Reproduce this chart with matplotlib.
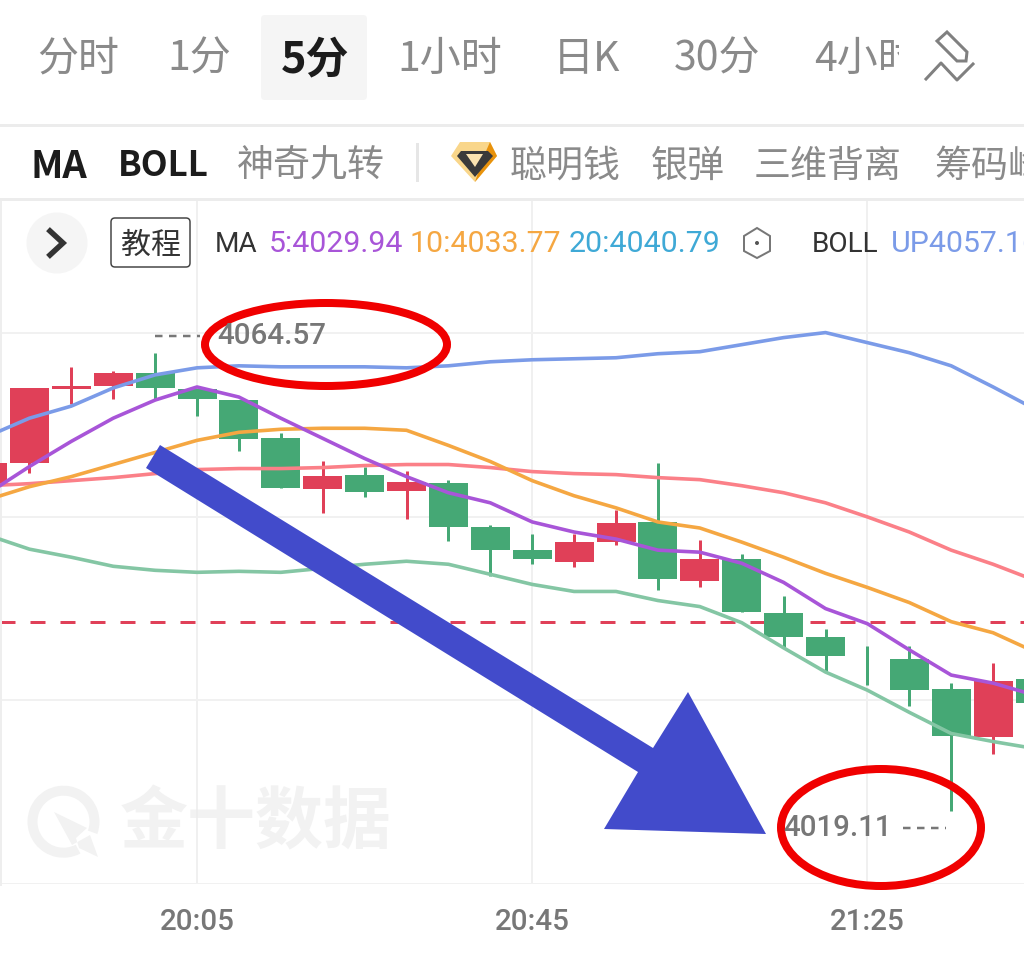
import matplotlib
matplotlib.use("Agg")
import matplotlib.pyplot as plt
from matplotlib.patches import Ellipse, Polygon, Rectangle, FancyBboxPatch, Circle, Wedge

W, H, DPI = 1024, 960, 100
PX = 72 / DPI
CJK = ['Noto Sans CJK SC', 'DejaVu Sans']
RB = 'Roboto'

# ---------- data ----------
index = list(range(-1, 25))
opens = [4051.5, 4053.7, 4061.0, 4061.3, 4062.6, 4061.0, 4059.9, 4056.1, 4051.1, 4052.5, 4050.9, 4051.7, 4047.3,
         4045.0, 4043.8, 4045.8, 4047.8, 4041.9, 4044.1, 4038.8, 4036.4, 4033.6, 4034.2, 4031.2, 4026.5, 4032.2]
highs = [4053.7, 4061.1, 4063.2, 4062.8, 4064.57, 4061.0, 4059.9, 4056.6, 4053.9, 4053.3, 4052.9, 4052.0, 4047.5,
         4046.6, 4046.6, 4049.0, 4053.7, 4046.0, 4044.6, 4040.4, 4037.2, 4035.5, 4035.5, 4031.8, 4033.8, 4032.2]
lows = [4051.5, 4052.7, 4059.5, 4060.0, 4060.0, 4058.3, 4054.8, 4051.2, 4048.7, 4050.3, 4048.1, 4045.9, 4042.4,
        4043.6, 4043.3, 4045.5, 4041.0, 4041.3, 4038.9, 4035.4, 4032.9, 4031.6, 4029.5, 4019.11, 4024.8, 4029.8]
closes = [4053.7, 4061.1, 4061.3, 4062.6, 4061.1, 4060.0, 4056.0, 4051.2, 4052.4, 4050.8, 4051.8, 4047.3, 4045.0,
          4044.1, 4045.8, 4047.7, 4042.1, 4044.1, 4038.9, 4036.4, 4034.5, 4033.6, 4031.1, 4026.6, 4032.0, 4029.8]
ma5 = [4050.6, 4053.3, 4055.8, 4058.1, 4059.9, 4061.2, 4060.2, 4058.1, 4056.1, 4054.1, 4052.3, 4050.7, 4049.7,
       4047.8, 4046.8, 4046.1, 4045.0, 4044.8, 4043.7, 4041.8, 4039.2, 4037.7, 4035.1, 4032.6, 4031.8, 4030.6]
ma10 = [4050.0, 4051.3, 4052.3, 4053.5, 4054.7, 4055.9, 4056.7, 4057.0, 4057.1, 4057.1, 4056.9, 4055.4, 4053.8,
        4051.9, 4050.4, 4049.2, 4047.8, 4047.2, 4045.8, 4044.3, 4042.7, 4041.3, 4039.8, 4037.9, 4036.8, 4034.9]
boll_up = [4056.3, 4058.1, 4059.3, 4061.1, 4062.4, 4063.1, 4063.3, 4063.2, 4063.2, 4063.2, 4063.1, 4063.3, 4063.7,
           4063.9, 4064.0, 4064.1, 4064.5, 4064.7, 4065.4, 4066.1, 4066.6, 4065.6, 4064.6, 4063.3, 4061.2, 4059.0]
boll_mid = [4051.4, 4051.6, 4051.9, 4052.2, 4052.6, 4053.0, 4053.1, 4053.1, 4053.2, 4053.4, 4053.5, 4053.5, 4053.2,
            4052.8, 4052.6, 4052.5, 4052.2, 4052.0, 4051.4, 4050.7, 4049.7, 4048.3, 4046.8, 4045.0, 4043.6, 4042.0]
boll_low = [4046.5, 4045.1, 4044.3, 4043.4, 4043.0, 4042.8, 4042.9, 4042.8, 4043.2, 4043.6, 4043.9, 4043.6, 4042.6,
            4041.6, 4040.9, 4040.9, 4040.0, 4039.4, 4037.8, 4035.3, 4032.9, 4031.1, 4028.9, 4026.8, 4026.0, 4025.3]
price_grid = [4066.56, 4048.3, 4030.1, 4011.86]
ref_price = 4037.9
time_ticks = [4, 12, 20]
time_labels = ['20:05', '20:45', '21:25']
tabs = ['分时', '1分', '5分', '1小时', '日K', '30分', '4小时']

RED, GREEN = '#e04058', '#45a875'
PURPLE, ORANGE, BLUE, PINK, LGREEN, CYAN = '#a855d8', '#f5a742', '#7b9be8', '#fb8088', '#84c6a4', '#3fa9d6'
GRAY = '#8a8a8a'

fig = plt.figure(figsize=(W / DPI, H / DPI), dpi=DPI, facecolor='white')

def pixel_axes(z):
    a = fig.add_axes([0, 0, 1, 1], zorder=z)
    a.set_xlim(0, W); a.set_ylim(H, 0); a.axis('off')
    return a

under = pixel_axes(0)
# ---------- watermark ----------
WM = '#f2f2f2'
under.add_patch(Wedge((63.5, 821.7), 36, 62, 20, width=10, fc=WM, ec='none'))
under.add_patch(Polygon([(54, 812), (87, 828), (76, 838), (79, 848), (98, 857), (90, 835), (72, 845)], fc=WM, ec='none'))
under.text(256, 824, '金十数据', family=CJK, fontweight='bold', fontsize=68 * PX, color=WM, ha='center', va='center')

# ---------- chart ----------
ax = fig.add_axes([0, (H - 884) / H, 1, (884 - 200) / H], zorder=1)
ax.patch.set_alpha(0)
ax.set_xlim(-0.7017, 23.737)
ax.set_ylim(4011.86, 4079.76)
for s in ['top', 'right', 'bottom']:
    ax.spines[s].set_visible(False)
ax.spines['left'].set_color('#eeeeee'); ax.spines['left'].set_linewidth(4 * PX)
ax.set_yticks(price_grid); ax.tick_params(axis='y', length=0, labelleft=False)
ax.grid(axis='y', color='#f1f1f1', lw=2 * PX)
ax.set_xticks(time_ticks, time_labels)
ax.grid(axis='x', color='#ececec', lw=1.5 * PX)
ax.tick_params(axis='x', length=0, pad=17)
for t in ax.get_xticklabels():
    t.set(family=RB, fontsize=29.5 * PX, color='#777777', fontweight='medium')
ax.set_axisbelow(True)

ax.axhline(ref_price, color=RED, lw=3 * PX, ls=(0, (15 / 3, 15 / 3)), zorder=2)
for i, o, h, l, c in zip(index, opens, highs, lows, closes):
    col = RED if c > o else GREEN
    ax.vlines(i, l, h, color=col, lw=3 * PX, zorder=3)
    ax.bar(i, abs(c - o), bottom=min(o, c), width=39 / 41.9, color=col, lw=0, zorder=3)
for vals, col in [(boll_up, BLUE), (boll_mid, PINK), (boll_low, LGREEN), (ma10, ORANGE), (ma5, PURPLE)]:
    ax.plot(index, vals, color=col, lw=3.6 * PX, zorder=4, solid_joinstyle='round')

top = pixel_axes(2)
def label(x, y, s, size, color=GRAY, ha='center', weight='normal', family=CJK, clip=None):
    t = top.text(x, y, s, family=family, fontsize=size * PX, color=color, ha=ha, va='center', fontweight=weight)
    if clip is not None:
        t.set_clip_path(Rectangle((clip[0], 0), clip[1] - clip[0], H, transform=top.transData))
        t.set_clip_on(True)
    return t

# ---------- tab row ----------
top.add_patch(FancyBboxPatch((265, 19), 98, 77, boxstyle='round,pad=4', fc='#f5f5f5', ec='none'))
tab_x = [78, 199, 315, 450, 587, 717, 0]
for s, x in zip(tabs[:-1], tab_x):
    if s == '5分':
        label(x, 59, s, 43, '#1c1c1c', weight='bold')
    else:
        label(x, 59, s, 41, GRAY)
label(814, 59, tabs[-1], 41, GRAY, ha='left', clip=(0, 899))
top.add_patch(Polygon([(947, 32), (937, 41), (957, 61), (966, 61), (967, 52)], fill=False, ec='#808080', lw=3 * PX))
top.plot([926, 941, 957, 973], [79, 63, 80, 64], color='#808080', lw=3 * PX)
top.plot([0, W], [125, 125], color='#ececec', lw=3 * PX)
top.plot([0, W], [199, 199], color='#ececec', lw=3 * PX)

# ---------- indicator row ----------
label(59, 166, 'MA', 38, '#1c1c1c', weight='bold')
label(163, 166, 'BOLL', 35, '#1c1c1c', weight='bold')
label(311, 166, '神奇九转', 37)
top.plot([417, 417], [144, 180], color='#e6e6e6', lw=3 * PX)
top.add_patch(Polygon([(460, 142), (490, 142), (497, 156), (475, 182), (451, 156)], fc='#f9d68a', ec='none'))
top.add_patch(Polygon([(490, 142), (497, 156), (475, 182), (483, 158)], fc='#e8920c', ec='none'))
top.add_patch(Polygon([(461, 151), (488, 151), (493, 156), (475, 177), (457, 156)], fc='#3a3a3a', ec='none'))
top.add_patch(Polygon([(466, 154), (483, 154), (475, 167)], fc='#fbe3b0', ec='none'))
label(565, 166, '聪明钱', 37)
label(688, 166, '银弹', 37)
label(828, 166, '三维背离', 37)
label(934, 166, '筹码峰', 37, ha='left')

# ---------- legend row ----------
top.add_patch(Circle((57, 243), 30.5, fc='#f5f5f5', ec='none'))
top.plot([50, 63, 50], [231, 243, 255], color='#333333', lw=5.5 * PX, solid_joinstyle='miter')
top.add_patch(FancyBboxPatch((115, 222), 71, 41, boxstyle='round,pad=4', fc='white', ec='#444444', lw=1.5 * PX))
label(151, 245, '教程', 30, '#333333')
label(215, 244, 'MA', 28, '#333333', ha='left', family=RB)
label(269, 244, '5:4029.94', 30.3, PURPLE, ha='left', family=RB)
label(410, 244, '10:4033.77', 30.3, ORANGE, ha='left', family=RB)
label(569, 244, '20:4040.79', 30.3, CYAN, ha='left', family=RB)
top.add_patch(Polygon([(757, 228), (770, 236), (770, 251), (757, 258), (744, 251), (744, 236)], fill=False, ec='#777777', lw=2 * PX))
top.add_patch(Circle((757, 243), 2, fc='#555555', ec='none'))
label(812, 244, 'BOLL', 28, '#333333', ha='left', family=RB)
label(891, 244, 'UP4057.16', 30.3, BLUE, ha='left', family=RB)

# ---------- high / low marks ----------
label(217, 336, '4064.57', 29.5, '#777777', ha='left', family=RB, weight='medium')
label(783, 828, '4019.11', 29.5, '#777777', ha='left', family=RB, weight='medium')
top.plot([155, 200], [336, 336], color='#777777', lw=2.5 * PX, ls=(0, (3, 2.6)))
top.plot([903, 946], [828, 828], color='#777777', lw=2.5 * PX, ls=(0, (3, 2.6)))

# ---------- drawn annotations ----------
top.add_patch(Ellipse((326, 344.5), 242, 83, fill=False, ec='#f00000', lw=8 * PX))
top.add_patch(Ellipse((881, 827.5), 200, 117, fill=False, ec='#f00000', lw=8 * PX))
top.add_patch(Polygon([(160, 445), (146, 468), (638, 772), (604, 829), (766, 834), (688, 692), (653, 748)],
                      fc='#424bcb', ec='none'))

fig.savefig('out.png', dpi=DPI, facecolor='white')
